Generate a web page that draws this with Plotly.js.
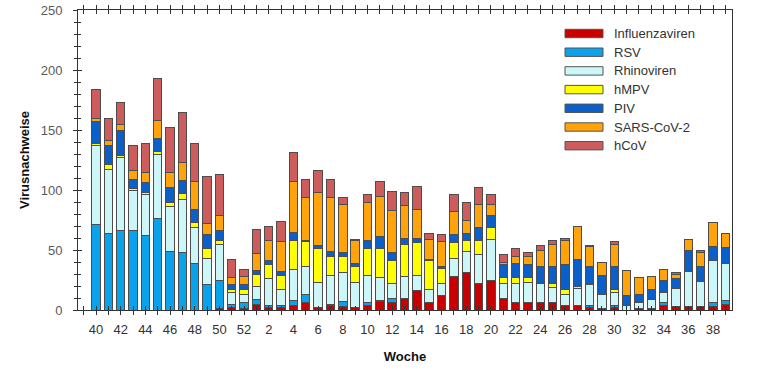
<!DOCTYPE html>
<html>
<head>
<meta charset="utf-8">
<script src="https://cdn.plot.ly/plotly-3.0.1.min.js"></script>
<style>
  html, body { margin: 0; padding: 0; background: #ffffff; }
  #chart { width: 761px; height: 381px; }
</style>
</head>
<body>
<div id="chart"></div>
<script>
// Kalenderwochen (Saison 40 ... 52, 1 ... 39)
const weeks = [40,41,42,43,44,45,46,47,48,49,50,51,52,
  1,2,3,4,5,6,7,8,9,10,11,12,13,14,15,16,17,18,19,20,21,22,23,24,25,26,27,28,29,30,31,32,33,34,35,36,37,38,39];

const influenzaviren = [0,0,0,0,0,0,0,0,0,0,1,2,1,
  5,2,2,4,6,2,4,3,2,4,7,6,10,16,6,12,28,31,22,25,10,6,6,6,6,4,4,2,1,2,0,1,1,4,3,3,3,3,5];
const rsv = [71,64,66,66,62,76,49,48,39,21,24,3,5,
  4,2,2,4,7,0,1,4,0,2,1,4,0,0,0,0,0,0,0,0,0,0,0,0,0,0,0,2,0,2,0,0,0,2,0,0,0,3,3];
const rhinoviren = [66,53,61,34,34,54,37,44,30,22,30,10,7,
  11,22,13,26,23,21,24,24,21,23,19,12,18,13,11,10,15,18,24,34,12,16,17,16,13,9,14,17,12,11,4,5,8,9,15,29,21,35,31];
const hmpv = [2,4,2,1,2,2,4,5,4,8,3,2,4,
  10,12,12,24,21,28,16,14,13,22,24,19,27,27,24,13,13,9,12,10,5,5,4,0,3,4,2,0,0,2,0,0,0,0,0,0,0,0,0];
const piv = [18,16,21,8,8,11,12,11,11,12,8,4,4,
  3,3,3,7,1,3,4,3,3,7,10,7,5,4,1,1,7,6,11,10,11,12,11,14,14,21,22,15,16,19,8,7,8,10,8,18,12,12,13];
const sarsCoV2 = [3,4,5,7,9,15,13,15,23,9,13,6,7,
  14,17,25,42,36,44,45,40,19,32,34,35,27,24,17,21,19,11,19,9,2,6,7,14,19,20,28,17,11,19,21,14,11,9,4,9,12,20,12];
const hcov = [24,19,18,21,24,35,37,42,32,39,34,15,6,
  20,12,17,24,15,18,15,6,1,6,12,16,11,19,5,6,14,15,14,8,6,6,3,4,3,2,0,1,0,2,0,0,0,0,1,0,2,0,0];

const seriesNames = ["Influenzaviren","RSV","Rhinoviren","hMPV","PIV","SARS-CoV-2","hCoV"];
const seriesValues = [influenzaviren, rsv, rhinoviren, hmpv, piv, sarsCoV2, hcov];
const seriesColors = ["#C80000","#0AA2EA","#CCF6F8","#FFFF00","#0A5FC8","#FFA30A","#CD5C5C"];

const xIdx = weeks.map((w, i) => i);
const FONT = "Liberation Sans, Arial, sans-serif";
const NARROW = "Liberation Sans Narrow, Arial Narrow, Liberation Sans, Arial, sans-serif";

const traces = seriesNames.map((name, k) => ({
  type: "bar",
  name: name,
  x: xIdx,
  y: seriesValues[k],
  width: 0.68,
  marker: { color: seriesColors[k], line: { color: "#4d4d4d", width: 1 } },
  showlegend: false,
  hoverinfo: "name+y"
}));
// empty helper trace so the overlay axes (crossing ticks) are drawn
traces.push({ type: "scatter", x: [], y: [], xaxis: "x2", yaxis: "y2", showlegend: false, hoverinfo: "skip" });

const tickVals = [-1].concat(xIdx);
const tickText = tickVals.map(i => (i >= 0 && i % 2 === 0) ? String(weeks[i]) : "");

// custom legend (wide swatches) built from the series arrays
const shapes = [];
const annotations = [];
const plotTop = 10, plotH = 300, plotL = 78, plotW = 654;
seriesNames.forEach((name, k) => {
  const py = 33.5 + 18.7 * k;
  const yc = (plotTop + plotH - py) / plotH;
  const hh = 4.2 / plotH;
  shapes.push({
    type: "rect", xref: "paper", yref: "paper",
    x0: (565 - plotL) / plotW, x1: (603 - plotL) / plotW,
    y0: yc - hh, y1: yc + hh,
    fillcolor: seriesColors[k], line: { color: "#555555", width: 1 }
  });
  annotations.push({
    xref: "paper", yref: "paper",
    x: (612 - plotL) / plotW, y: yc,
    xanchor: "left", yanchor: "middle",
    text: name, showarrow: false,
    font: { family: FONT, size: 13, color: "#333333" }
  });
});

const layout = {
  width: 761, height: 381,
  margin: { l: 78, r: 29, t: 10, b: 71 },
  paper_bgcolor: "#ffffff", plot_bgcolor: "#ffffff",
  barmode: "stack",
  showlegend: false,
  font: { family: FONT, color: "#333333" },
  xaxis: {
    range: [-1.46, 51.54],
    tickmode: "array", tickvals: tickVals, ticktext: tickText,
    ticks: "outside", ticklen: 4, tickwidth: 1, tickcolor: "#333333",
    showline: true, linecolor: "#333333", linewidth: 1, mirror: "allticks",
    showgrid: false, zeroline: false,
    tickfont: { family: FONT, size: 13, color: "#333333" },
    ticklabelstandoff: 3,
    title: { text: "<b>Woche</b>", font: { family: NARROW, size: 13, color: "#111111" }, standoff: 16 }
  },
  xaxis2: {
    overlaying: "x", anchor: "y", side: "bottom",
    range: [-1.46, 51.54],
    tickmode: "array", tickvals: tickVals, ticktext: tickVals.map(() => ""),
    ticks: "inside", ticklen: 4, tickwidth: 1, tickcolor: "#333333",
    showline: false, mirror: "allticks", showgrid: false, zeroline: false, showticklabels: false
  },
  yaxis: {
    range: [0, 250], dtick: 50, tick0: 0,
    ticks: "outside", ticklen: 4, tickwidth: 1, tickcolor: "#333333",
    minor: { dtick: 10, ticks: "outside", ticklen: 3, tickcolor: "#333333", showgrid: false },
    showline: true, linecolor: "#333333", linewidth: 1, mirror: true,
    showgrid: false, zeroline: false,
    tickfont: { family: FONT, size: 13, color: "#5a5a5a" },
    ticklabelstandoff: 8,
    title: { text: "<b>Virusnachweise</b>", font: { family: NARROW, size: 13, color: "#111111" }, standoff: 8 }
  },
  yaxis2: {
    overlaying: "y", anchor: "x", side: "left",
    range: [0, 250], dtick: 50, tick0: 0,
    ticks: "inside", ticklen: 4, tickwidth: 1, tickcolor: "#333333",
    minor: { dtick: 10, ticks: "inside", ticklen: 3, tickcolor: "#333333", showgrid: false },
    showline: false, showgrid: false, zeroline: false, showticklabels: false
  },
  shapes: shapes,
  annotations: annotations
};

Plotly.newPlot("chart", traces, layout, { displayModeBar: false, staticPlot: true });
</script>
</body>
</html>
